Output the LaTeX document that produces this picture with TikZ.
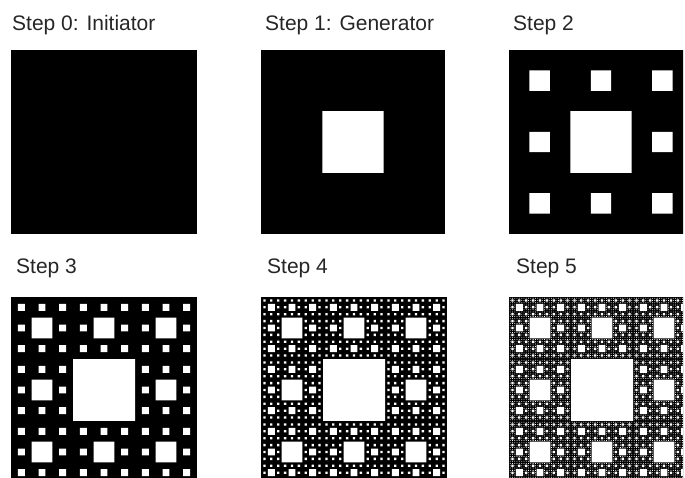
\documentclass[tikz,border=0pt]{standalone}
\usepackage{fontspec}
\setmainfont{Liberation Sans}
\newcommand\mycarpet[4]{% x0 y0 size levels
  \fill[black] (#1,#2) rectangle ++(#3,#3);
  \foreach \k in {1,...,#4} {
    \pgfmathsetmacro\h{#3/3^\k}
    \pgfmathtruncatemacro\m{3^(\k-1)-1}
    \begin{scope}
      \clip foreach \i in {0,...,\m} {(#1+3*\i*\h+\h, #2) rectangle ++(\h,#3)};
      \fill[white] foreach \j in {0,...,\m} {(#1, #2+3*\j*\h+\h) rectangle ++(#3,\h)};
    \end{scope}
  }
}
\begin{document}
\begin{tikzpicture}[x=1pt,y=-1pt,
  steplabel/.style={anchor=base west,inner sep=0pt,text=black!85,
    font=\fontsize{21}{25}\selectfont}]
\useasboundingbox (0,0) rectangle (685,477);
\clip (0,0) rectangle (683,477);
\node[steplabel] (l0) at (12,30) {Step 0: Initiator};
\node[steplabel] (l1) at (265,30) {Step 1: Generator};
\node[steplabel] (l2) at (513,30) {Step 2};
\node[steplabel] (l3) at (16,273) {Step 3};
\node[steplabel] (l4) at (267,273) {Step 4};
\node[steplabel] (l5) at (516,273) {Step 5};
\fill[black] (11,50) rectangle ++(186,184);
\mycarpet{261}{50}{184}{1}
\mycarpet{509}{50}{184}{2}
\mycarpet{11}{297}{186}{3}
\mycarpet{261}{297}{186}{4}
\mycarpet{509}{297}{186}{5}
\end{tikzpicture}
\end{document}
